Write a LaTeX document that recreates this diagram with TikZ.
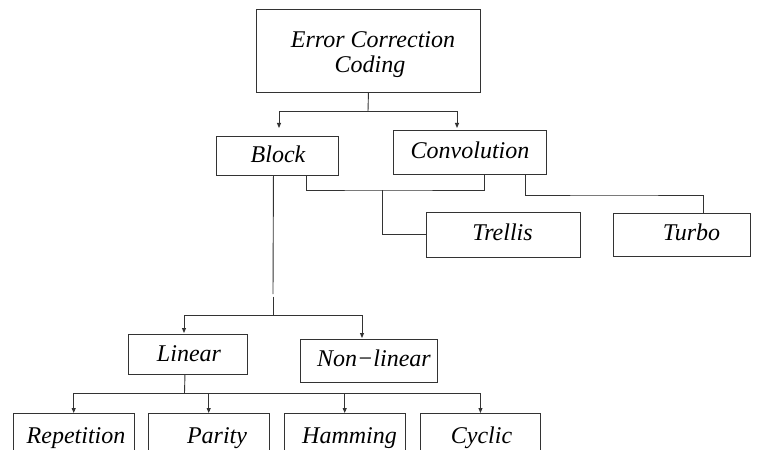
\documentclass[tikz,border=0pt]{standalone}
\usepackage{fontspec}
\setmainfont{Liberation Serif}
\usetikzlibrary{arrows.meta}
\begin{document}
\begin{tikzpicture}[x=1pt,y=-1pt,
  box/.style={draw=black!80, line width=0.9pt, inner sep=0pt, anchor=north west},
  txt/.style={anchor=base, inner sep=0pt, font=\fontsize{24}{28}\selectfont\itshape},
  conn/.style={draw=black!80, line width=0.9pt},
  arr/.style={conn, -{Triangle[length=5pt,width=4pt]}}]
\useasboundingbox (0,0) rectangle (759,449);
\clip (0,0) rectangle (759,449);
\fill[white] (0,0) rectangle (759,449);
% boxes
\node[box, minimum width=224, minimum height=83]   (ecc)    at (256,9)   {};
\node[box, minimum width=122, minimum height=39]   (blk)    at (216,136) {};
\node[box, minimum width=153, minimum height=44]   (conv)   at (393,130) {};
\node[box, minimum width=154, minimum height=44.5] (trel)   at (426,212) {};
\node[box, minimum width=137, minimum height=43.5] (turbo)  at (613,212.5) {};
\node[box, minimum width=119, minimum height=40]   (lin)    at (128,334) {};
\node[box, minimum width=137, minimum height=43]   (nonlin) at (300,339) {};
\node[box, minimum width=120.5, minimum height=60] (rep)    at (13,413)  {};
\node[box, minimum width=120.5, minimum height=60] (par)    at (148,413) {};
\node[box, minimum width=120.5, minimum height=60] (ham)    at (284,413) {};
\node[box, minimum width=120, minimum height=60]   (cyc)    at (420,413) {};
% texts
\node[txt] (ecc-t1)   at (373,48)    {Error Correction};
\node[txt] (ecc-t2)   at (370,73)    {Coding};
\node[txt] (blk-t)    at (278,163)   {Block};
\node[txt] (conv-t)   at (470,158)   {Convolution};
\node[txt] (trel-t)   at (502.5,240) {Trellis};
\node[txt] (turbo-t)  at (691.5,240) {Turbo};
\node[txt] (lin-t)    at (189,361.5) {Linear};
\node[txt] (nonlin-t) at (374,366)   {Non−linear};
\node[txt] (rep-t)    at (76,443)    {Repetition};
\node[txt] (par-t)    at (217,443)   {Parity};
\node[txt] (ham-t)    at (349.5,443) {Hamming};
\node[txt] (cyc-t)    at (481.5,443) {Cyclic};
% junction coordinates
\coordinate (j1) at (368,111);
\coordinate (a1) at (279,128);
\coordinate (a2) at (457,128);
\coordinate (g1) at (273,294);
\coordinate (g2) at (273,296.5);
\coordinate (j2) at (273,315);
\coordinate (a3) at (184,333);
\coordinate (a4) at (362,338);
\coordinate (m1) at (382,190);
\coordinate (m2) at (614,195);
\coordinate (j3) at (184.5,393);
% connectors
\draw[conn] (ecc.south) -- (j1);
\draw[arr] (j1) -| (a1);
\draw[arr] (j1) -| (a2);
\draw[conn] ([xshift=-4pt]blk.south) -- (g1);
\draw[conn] (g2) -- (j2);
\draw[arr] (j2) -| (a3);
\draw[arr] (j2) -| (a4);
\draw[conn] ([xshift=29pt]blk.south) |- (m1) -| ([xshift=14.5pt]conv.south);
\draw[conn] (m1) |- (trel.west);
\draw[conn] ([xshift=55.5pt]conv.south) |- (m2) -| ([xshift=21.5pt]turbo.north);
\draw[conn] ([xshift=-3pt]lin.south) -- (j3);
\draw[arr] (j3) -| (rep.north);
\draw[arr] (j3) -| (par.north);
\draw[arr] (j3) -| (ham.north);
\draw[arr] (j3) -| (cyc.north);
\end{tikzpicture}
\end{document}
